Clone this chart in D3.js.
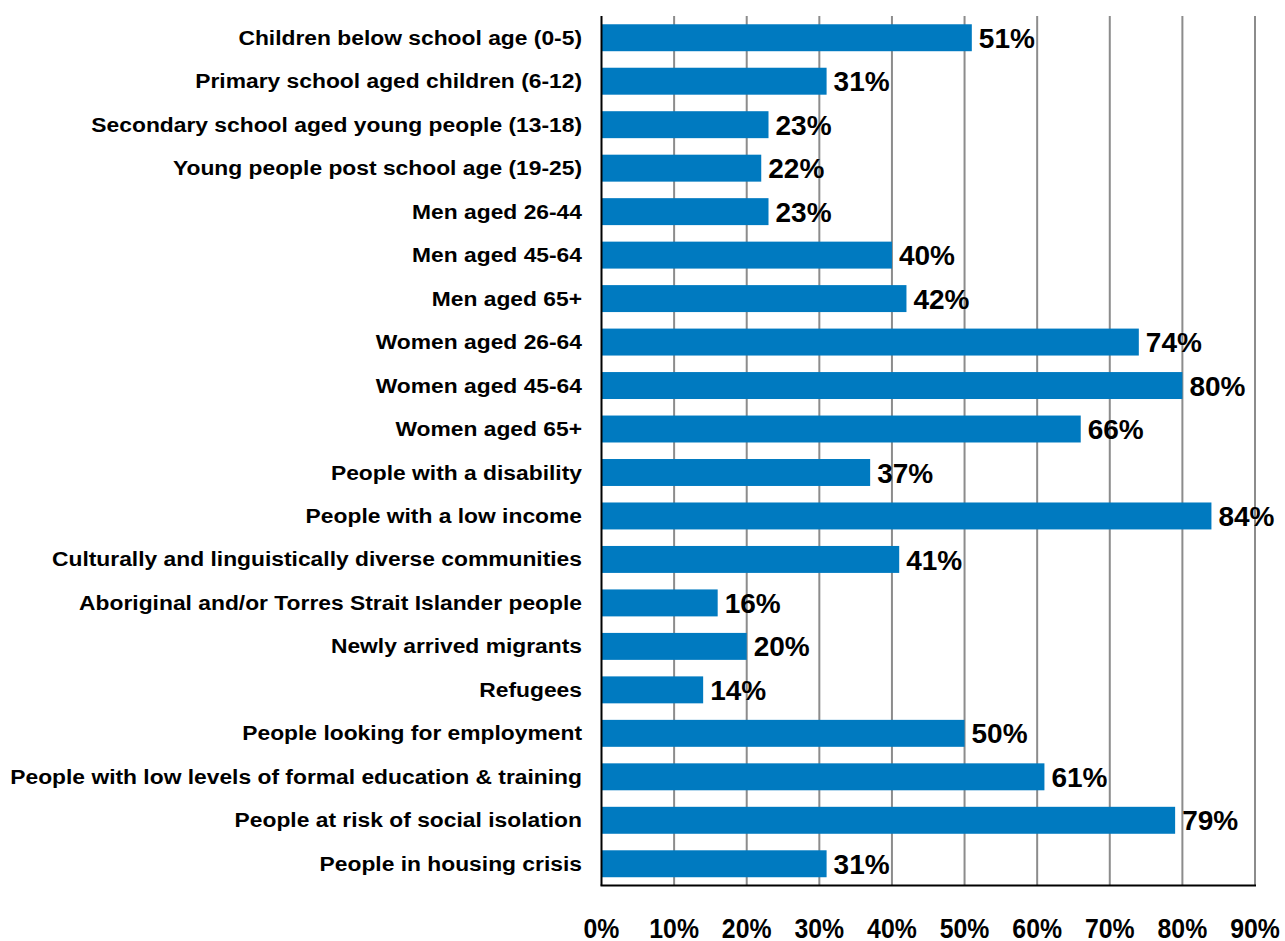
<!DOCTYPE html>
<html>
<head>
<meta charset="utf-8">
<script src="https://cdn.jsdelivr.net/npm/d3@7"></script>
<style>
  body { margin: 0; background: #fff; }
  svg { display: block; }
  text { font-family: "Liberation Sans", Arial, sans-serif; font-weight: bold; fill: #000; }
</style>
</head>
<body>
<div id="chart"></div>
<script>
// -----------------------------
// DATA
// -----------------------------
const categories = [
  "Children below school age (0-5)",
  "Primary school aged children (6-12)",
  "Secondary school aged young people (13-18)",
  "Young people post school age (19-25)",
  "Men aged 26-44",
  "Men aged 45-64",
  "Men aged 65+",
  "Women aged 26-64",
  "Women aged 45-64",
  "Women aged 65+",
  "People with a disability",
  "People with a low income",
  "Culturally and linguistically diverse communities",
  "Aboriginal and/or Torres Strait Islander people",
  "Newly arrived migrants",
  "Refugees",
  "People looking for employment",
  "People with low levels of formal education & training",
  "People at risk of social isolation",
  "People in housing crisis"
];
const values = [51, 31, 23, 22, 23, 40, 42, 74, 80, 66, 37, 84, 41, 16, 20, 14, 50, 61, 79, 31];
const tickValues = [0, 10, 20, 30, 40, 50, 60, 70, 80, 90];

// -----------------------------
// DIMENSIONS
// -----------------------------
const width = 1285, height = 941;
const margin = { top: 16, left: 601.5, right: 30, bottom: 55.5 };
const innerWidth = 1255 - margin.left;
const innerHeight = height - margin.top - margin.bottom;

const svg = d3.select("#chart").append("svg")
  .attr("width", width)
  .attr("height", height);

const g = svg.append("g")
  .attr("transform", `translate(${margin.left},${margin.top})`);

// -----------------------------
// SCALES
// -----------------------------
const x = d3.scaleLinear().domain([0, 90]).range([0, innerWidth]);
const y = d3.scaleBand().domain(categories).range([0, innerHeight]).paddingInner(0.38).paddingOuter(0.19);

// gridlines
g.append("g").selectAll("line")
  .data(tickValues.slice(1))
  .join("line")
  .attr("x1", d => x(d)).attr("x2", d => x(d))
  .attr("y1", 0).attr("y2", innerHeight)
  .attr("stroke", "#8c8c8c")
  .attr("stroke-width", 2);

// bars
g.append("g").selectAll("rect")
  .data(values)
  .join("rect")
  .attr("x", 0)
  .attr("y", (d, i) => y(categories[i]))
  .attr("width", d => x(d))
  .attr("height", y.bandwidth())
  .attr("fill", "#007ac0");

// value labels
g.append("g").selectAll("text")
  .data(values)
  .join("text")
  .attr("x", d => x(d) + 7)
  .attr("y", (d, i) => y(categories[i]) + y.bandwidth() / 2)
  .attr("dy", "0.36em")
  .style("font-size", "28px")
  .text(d => d + "%");

// axes lines
g.append("line")
  .attr("x1", 0).attr("x2", 0).attr("y1", 0).attr("y2", innerHeight)
  .attr("stroke", "#000").attr("stroke-width", 2);
g.append("line")
  .attr("x1", -1).attr("x2", innerWidth + 1).attr("y1", innerHeight).attr("y2", innerHeight)
  .attr("stroke", "#000").attr("stroke-width", 2);

// category labels (right aligned, stretched to the reference width)
const catLabels = g.append("g").selectAll("text")
  .data(categories)
  .join("text")
  .attr("text-anchor", "end")
  .style("font-size", "19.5px")
  .text(d => d);

const longest = d3.max(catLabels.nodes(), n => n.getComputedTextLength());
const k = 572 / longest;
catLabels.attr("transform", d => `translate(-19.5,${y(d) + y.bandwidth() / 2}) scale(${k},1)`)
  .attr("dy", "0.36em");

// x tick labels
const tickLabels = g.append("g").selectAll("text")
  .data(tickValues)
  .join("text")
  .attr("text-anchor", "middle")
  .style("font-size", "27px")
  .text(d => d + "%");
tickLabels.attr("transform", d => `translate(${x(d)},${innerHeight + 52}) scale(0.92,1)`);
</script>
</body>
</html>
